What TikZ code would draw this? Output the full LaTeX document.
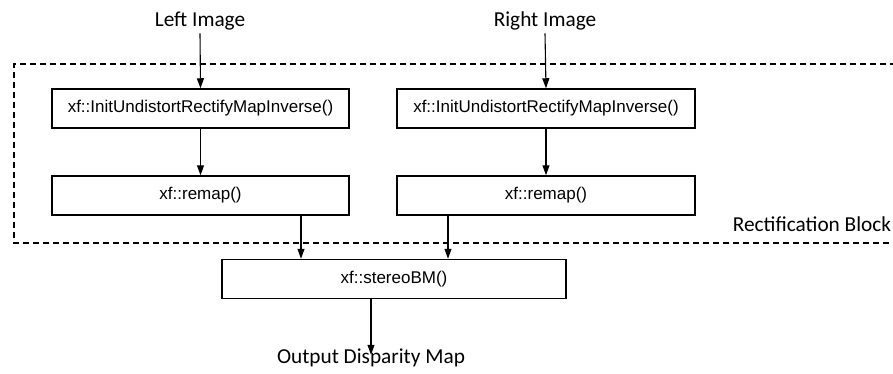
\documentclass[tikz,border=0pt]{standalone}
\usepackage{fontspec}
\setmainfont{Liberation Sans}
\newfontfamily\labelfont{Carlito}
\usetikzlibrary{arrows.meta}
\begin{document}
\begin{tikzpicture}[x=1pt,y=-1pt,
  fnbox/.style={draw, line width=1.5pt, minimum height=39pt, inner sep=0pt, font=\fontsize{17}{17}\selectfont},
  iolabel/.style={font=\labelfont\fontsize{21.3}{21.3}\selectfont, inner sep=0pt},
  flow/.style={line width=1.1pt, -{Triangle[length=10pt,width=7pt]}},
  blockframe/.style={line width=1.4pt, dash pattern=on 6pt off 4pt}]
\useasboundingbox (0,0) rectangle (893,373);
% rectification block frame (open on the right side)
\draw[blockframe] (896,64) -- (14,64) -- (14,243) -- (896,243);
\node[iolabel] (rblk) at (812,224) {Rectification Block};
% inputs
\node[iolabel] (limg) at (200,21) {Left Image};
\node[iolabel] (rimg) at (545,21) {Right Image};
% rectification stages
\node[fnbox, minimum width=297pt] (linit) at (200.5,108.5) {xf::InitUndistortRectifyMapInverse()};
\node[fnbox, minimum width=298pt] (rinit) at (546,108.5) {xf::InitUndistortRectifyMapInverse()};
\node[fnbox, minimum width=297pt] (lremap) at (200.5,195.5) {xf::remap()};
\node[fnbox, minimum width=298pt] (rremap) at (546,195.5) {xf::remap()};
% disparity
\node[fnbox, minimum width=344pt] (sbm) at (394,279) {xf::stereoBM()};
\node[iolabel] (out) at (371,358) {Output Disparity Map};
% connectors
\draw[flow] (limg.south) ++(0,3) -- (linit.north);
\draw[flow] (rimg.south) ++(0,3) -- (rinit.north);
\draw[flow] (linit) -- (lremap);
\draw[flow] (rinit) -- (rremap);
\draw[flow] (lremap.south -| 301,0) -- (sbm.north -| 301,0);
\draw[flow] (rremap.south -| 448,0) -- (sbm.north -| 448,0);
\draw[flow] (sbm.south -| out) -- ([yshift=-6pt]out.north);
\end{tikzpicture}
\end{document}
